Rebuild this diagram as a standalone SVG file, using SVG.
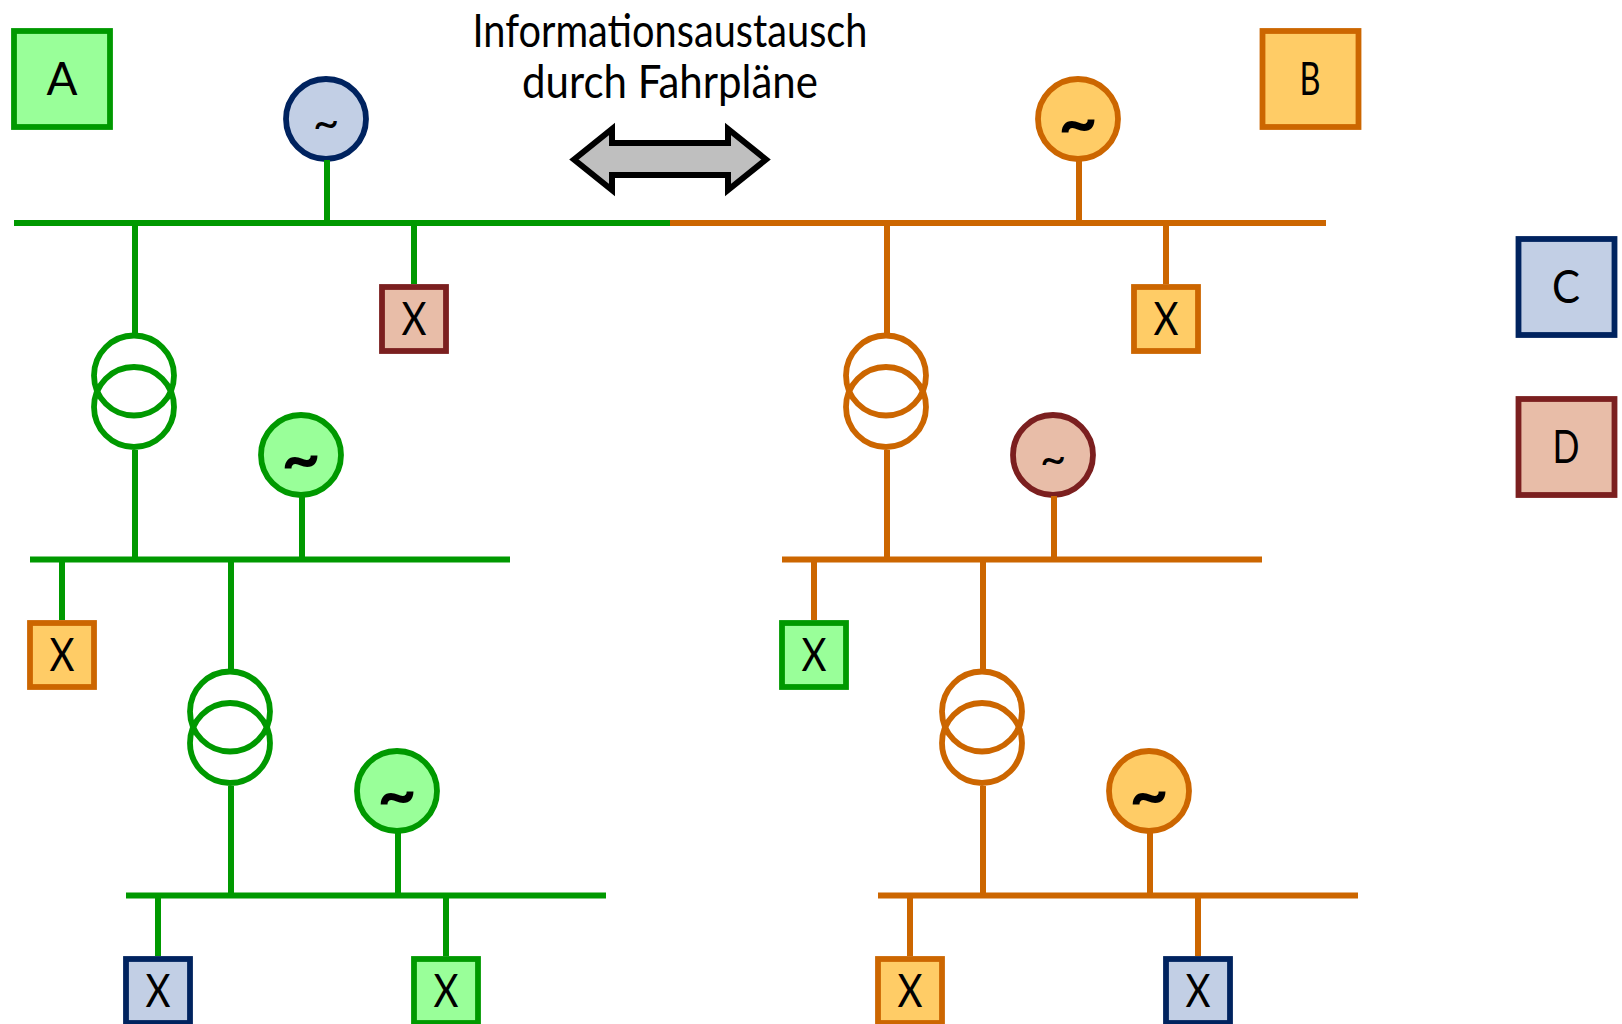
<svg xmlns="http://www.w3.org/2000/svg" width="1622" height="1024" viewBox="0 0 1622 1024">
<style>
text{font-family:"Lato","Liberation Sans",sans-serif;fill:#000;text-anchor:middle;font-weight:400}
.lbl{font-size:46px}
rect,circle{stroke-width:5.8px}
.ag{stroke:#009900;fill:#99FF99}
.bo{stroke:#CC6600;fill:#FFCC66}
.cn{stroke:#00235F;fill:#C2CFE5}
.dm{stroke:#7B1F1F;fill:#E8BDA8}
.tr{fill:none}
.trg{stroke:#009900}
.tro{stroke:#CC6600}
.tl{font-size:46px;font-weight:400}
.tb{font-size:68px;font-weight:700}
#connectors line{stroke-width:6px}
.g{stroke:#009900}
.o{stroke:#CC6600}
</style>
<rect width="1622" height="1024" fill="#fff" style="stroke:none"/>
<g id="legend-a"><rect class="ag" x="14" y="31" width="96" height="96"/><text class="lbl" x="62" y="95" textLength="31" lengthAdjust="spacingAndGlyphs">A</text></g>
<g id="legend-b"><rect class="bo" x="1262.5" y="31" width="96" height="96"/><text class="lbl" x="1310" y="95" textLength="21" lengthAdjust="spacingAndGlyphs">B</text></g>
<g id="legend-c"><rect class="cn" x="1518.5" y="239" width="96" height="96"/><text class="lbl" x="1566" y="303" textLength="28" lengthAdjust="spacingAndGlyphs">C</text></g>
<g id="legend-d"><rect class="dm" x="1518.5" y="399" width="96" height="96"/><text class="lbl" x="1566" y="463" textLength="27" lengthAdjust="spacingAndGlyphs">D</text></g>
<g id="title"><text x="670" y="47" font-size="46" textLength="395" lengthAdjust="spacingAndGlyphs">Informationsaustausch</text><text x="670" y="98" font-size="46" textLength="296" lengthAdjust="spacingAndGlyphs">durch Fahrpläne</text></g>
<g id="exchange-arrow"><polygon points="574,159.5 612,129 612,143 728,143 728,129 766,159.5 728,190 728,175 612,175 612,190" fill="#BFBFBF" stroke="#000" stroke-width="6"/></g>

<g id="gen-1"><circle class="cn" cx="326" cy="119" r="40"/><text class="tl" x="326" y="139">~</text></g>
<g id="gen-2"><circle class="bo" cx="1078" cy="119" r="40"/><text class="tb" x="1078" y="146">~</text></g>
<g id="gen-3"><circle class="ag" cx="301" cy="455" r="40"/><text class="tb" x="301" y="482">~</text></g>
<g id="gen-4"><circle class="dm" cx="1053" cy="455" r="40"/><text class="tl" x="1053" y="475">~</text></g>
<g id="gen-5"><circle class="ag" cx="397" cy="791" r="40"/><text class="tb" x="397" y="818">~</text></g>
<g id="gen-6"><circle class="bo" cx="1149" cy="791" r="40"/><text class="tb" x="1149" y="818">~</text></g>

<g id="trafo-1" class="trg"><circle class="tr" cx="134" cy="375.5" r="40"/><circle class="tr" cx="134" cy="407" r="40"/></g>
<g id="trafo-2" class="tro"><circle class="tr" cx="886" cy="375.5" r="40"/><circle class="tr" cx="886" cy="407" r="40"/></g>
<g id="trafo-3" class="trg"><circle class="tr" cx="230" cy="711.5" r="40"/><circle class="tr" cx="230" cy="743" r="40"/></g>
<g id="trafo-4" class="tro"><circle class="tr" cx="982" cy="711.5" r="40"/><circle class="tr" cx="982" cy="743" r="40"/></g>

<g id="load-1"><rect class="dm" x="382" y="287" width="64" height="64"/><text class="lbl" x="414" y="335" textLength="25" lengthAdjust="spacingAndGlyphs">X</text></g>
<g id="load-2"><rect class="bo" x="1134" y="287" width="64" height="64"/><text class="lbl" x="1166" y="335" textLength="25" lengthAdjust="spacingAndGlyphs">X</text></g>
<g id="load-3"><rect class="bo" x="30" y="623" width="64" height="64"/><text class="lbl" x="62" y="671" textLength="25" lengthAdjust="spacingAndGlyphs">X</text></g>
<g id="load-4"><rect class="ag" x="782" y="623" width="64" height="64"/><text class="lbl" x="814" y="671" textLength="25" lengthAdjust="spacingAndGlyphs">X</text></g>
<g id="load-5"><rect class="cn" x="126" y="959" width="64" height="64"/><text class="lbl" x="158" y="1007" textLength="25" lengthAdjust="spacingAndGlyphs">X</text></g>
<g id="load-6"><rect class="ag" x="414" y="959" width="64" height="64"/><text class="lbl" x="446" y="1007" textLength="25" lengthAdjust="spacingAndGlyphs">X</text></g>
<g id="load-7"><rect class="bo" x="878" y="959" width="64" height="64"/><text class="lbl" x="910" y="1007" textLength="25" lengthAdjust="spacingAndGlyphs">X</text></g>
<g id="load-8"><rect class="cn" x="1166" y="959" width="64" height="64"/><text class="lbl" x="1198" y="1007" textLength="25" lengthAdjust="spacingAndGlyphs">X</text></g>

<g id="connectors">
<line class="g" x1="14" y1="223" x2="670" y2="223"/>
<line class="o" x1="670" y1="223" x2="1326" y2="223"/>
<line class="g" x1="30" y1="559.5" x2="510" y2="559.5"/>
<line class="o" x1="782" y1="559.5" x2="1262" y2="559.5"/>
<line class="g" x1="126" y1="895.5" x2="606" y2="895.5"/>
<line class="o" x1="878" y1="895.5" x2="1358" y2="895.5"/>

<line class="g" x1="327" y1="160" x2="327" y2="223"/>
<line class="g" x1="135" y1="223" x2="135" y2="333"/>
<line class="g" x1="414" y1="223" x2="414" y2="284"/>
<line class="g" x1="135" y1="450" x2="135" y2="559.5"/>
<line class="g" x1="302" y1="496" x2="302" y2="559.5"/>
<line class="g" x1="62" y1="559.5" x2="62" y2="620"/>
<line class="g" x1="231" y1="559.5" x2="231" y2="669"/>
<line class="g" x1="231" y1="786" x2="231" y2="895.5"/>
<line class="g" x1="398" y1="832" x2="398" y2="895.5"/>
<line class="g" x1="158" y1="895.5" x2="158" y2="956"/>
<line class="g" x1="446" y1="895.5" x2="446" y2="956"/>

<line class="o" x1="1079" y1="160" x2="1079" y2="223"/>
<line class="o" x1="887" y1="223" x2="887" y2="333"/>
<line class="o" x1="1166" y1="223" x2="1166" y2="284"/>
<line class="o" x1="887" y1="450" x2="887" y2="559.5"/>
<line class="o" x1="1054" y1="496" x2="1054" y2="559.5"/>
<line class="o" x1="814" y1="559.5" x2="814" y2="620"/>
<line class="o" x1="983" y1="559.5" x2="983" y2="669"/>
<line class="o" x1="983" y1="786" x2="983" y2="895.5"/>
<line class="o" x1="1150" y1="832" x2="1150" y2="895.5"/>
<line class="o" x1="910" y1="895.5" x2="910" y2="956"/>
<line class="o" x1="1198" y1="895.5" x2="1198" y2="956"/>
</g>
</svg>
